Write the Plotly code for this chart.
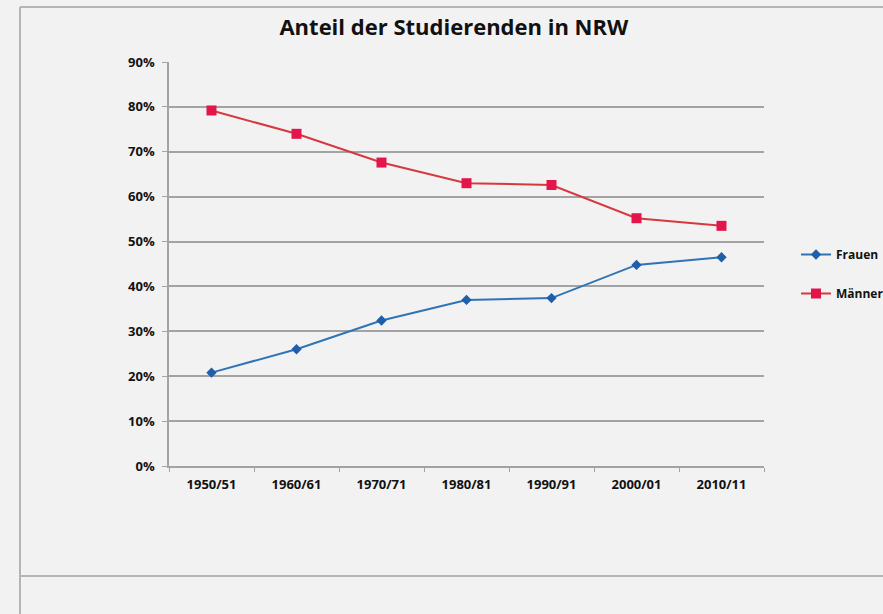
import plotly.graph_objects as go

categories = ["1950/51", "1960/61", "1970/71", "1980/81", "1990/91", "2000/01", "2010/11"]
frauen = [0.208, 0.260, 0.324, 0.370, 0.374, 0.448, 0.465]
maenner = [0.792, 0.740, 0.676, 0.630, 0.626, 0.552, 0.535]
y_ticks = [0, 0.1, 0.2, 0.3, 0.4, 0.5, 0.6, 0.7, 0.8, 0.9]
y_tick_labels = ["0%", "10%", "20%", "30%", "40%", "50%", "60%", "70%", "80%", "90%"]

W, H = 883, 614
L, R, T, B = 169, 764, 62, 466

FONT = "Open Sans"
BG = "#f2f2f2"
GRID = "#a3a3a3"

fig = go.Figure()
fig.add_trace(go.Scatter(
    x=categories, y=frauen, name="<b>Frauen</b>", mode="lines+markers",
    line=dict(color="#2f74b5", width=2),
    marker=dict(symbol="diamond", size=8, color="#1f5ea8"),
    legendgroup="f",
))
fig.add_trace(go.Scatter(
    x=categories, y=maenner, name="<b>Männer</b>", mode="lines+markers",
    line=dict(color="#d5393f", width=2),
    marker=dict(symbol="square", size=10, color="#e3154b"),
    legendgroup="m",
))

def px_to_paper_x(px):
    return (px - L) / (R - L)

def px_to_paper_y(py):
    return (B - py) / (B - T)

border = dict(color="#b5b5b5", width=2)
shapes = [
    dict(type="line", xref="paper", yref="paper",
         x0=px_to_paper_x(20), x1=px_to_paper_x(900),
         y0=px_to_paper_y(7), y1=px_to_paper_y(7), line=border),
    dict(type="line", xref="paper", yref="paper",
         x0=px_to_paper_x(20), x1=px_to_paper_x(20),
         y0=px_to_paper_y(7), y1=px_to_paper_y(640), line=border),
    dict(type="line", xref="paper", yref="paper",
         x0=px_to_paper_x(20), x1=px_to_paper_x(900),
         y0=px_to_paper_y(576), y1=px_to_paper_y(576), line=border),
]

fig.update_layout(
    width=W, height=H,
    margin=dict(l=L, r=W - R, t=T, b=H - B, autoexpand=False),
    paper_bgcolor=BG, plot_bgcolor=BG,
    font=dict(family=FONT, color="#1a1a1a"),
    title=dict(text="<b>Anteil der Studierenden in NRW</b>", x=0.514, xanchor="center",
               y=1 - 27 / H, yanchor="middle", font=dict(size=22, family=FONT, color="#111")),
    shapes=shapes,
    showlegend=True,
    legend=dict(x=px_to_paper_x(796), y=px_to_paper_y(240), xanchor="left", yanchor="top",
                bgcolor="rgba(0,0,0,0)", font=dict(size=12, family=FONT, color="#111"),
                tracegroupgap=20, traceorder="grouped", itemwidth=30),
    xaxis=dict(
        type="category", range=[-0.5, len(categories) - 0.5],
        showgrid=False, showline=True, linecolor=GRID, linewidth=1.5,
        ticks="outside", ticklen=4, tickcolor=GRID, tickson="boundaries",
        tickfont=dict(size=13, family=FONT, color="#111"),
        tickprefix="<b>", ticksuffix="</b>", zeroline=False, ticklabelstandoff=6,
    ),
    yaxis=dict(
        range=[0, 0.9], tickvals=y_ticks, ticktext=["<b>%s</b>" % t for t in y_tick_labels],
        showgrid=True, gridcolor=GRID, gridwidth=1.5, showline=True, linecolor=GRID, linewidth=1.5,
        ticks="outside", ticklen=5, tickcolor=GRID, zeroline=False, ticklabelstandoff=5,
        tickfont=dict(size=13, family=FONT, color="#111"),
    ),
)

fig.write_html("out.html", post_script="document.body.style.margin='0';",
               config={"displayModeBar": False})
